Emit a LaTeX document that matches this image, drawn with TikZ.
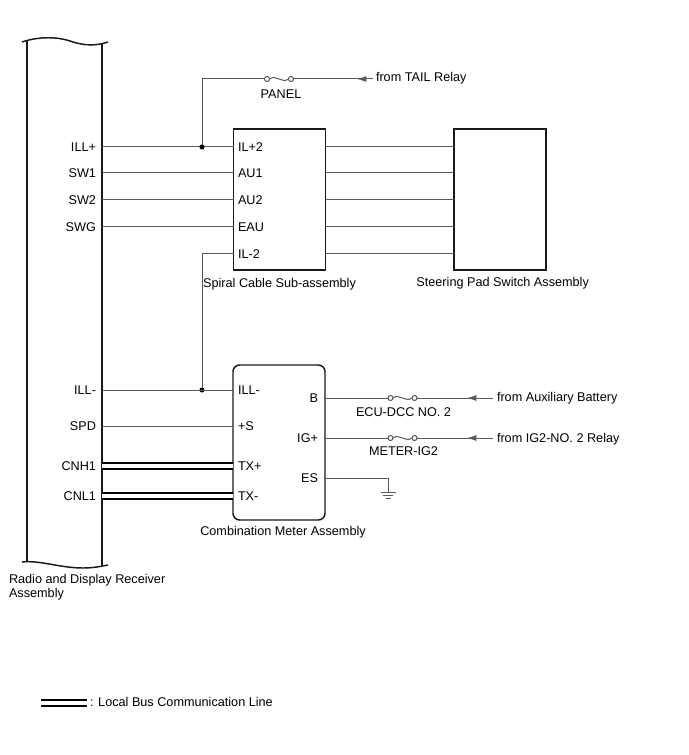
\documentclass[tikz,border=0pt]{standalone}
\usepackage{fontspec}
\setmainfont{Liberation Sans}
\usetikzlibrary{arrows.meta,calc,positioning}
\newcommand{\lblfont}{\fontsize{9.5}{10.5}\selectfont}

\begin{document}
\begin{tikzpicture}[x=0.75pt,y=-0.75pt,
  every node/.style={font=\lblfont,inner sep=0pt,outer sep=0pt,text height=6.8pt,text depth=0pt},
  wire/.style={draw=black!65,line width=0.75pt},
  feed/.style={wire,-{Latex[length=7pt,width=4.5pt]}},
  bus/.style={draw=black,line width=1.5pt,double=white,double distance=2.8pt},
  block/.style={draw=black!90,line width=1.1pt,rectangle,minimum width=69pt},
  portl/.style={anchor=east},
  portr/.style={anchor=west},
  fuse/.pic={
    \draw[wire,fill=white] (-12,0) circle (1.9pt) (12,0) circle (1.9pt);
    \draw[wire] (-9.5,0) .. controls (-3,-5) and (3,5) .. (9.5,0);
    \coordinate (-l) at (-14,0);
    \coordinate (-r) at (14,0);
  }]

  \useasboundingbox (0,0) rectangle (688,755);

  % radio and display receiver
  \draw[block] (27,41) -- (27,562) (102,43.5) -- (102,566);
  \draw[block] (22,42) .. controls (40,36) and (58,37) .. (70,41) .. controls (84,46) and (96,46) .. (108,42);
  \draw[block] (22,562) .. controls (40,560) and (60,568) .. (83,568) .. controls (95,568) and (102,566) .. (108,565);
  \coordinate (radioR) at (102,0);
  \foreach \n/\y/\t in {illp/147/ILL+,sw1/173/SW1,sw2/200/SW2,swg/227/SWG,illm/390/ILL-,spd/426/SPD,cnh/466/CNH1,cnl/496/CNL1}
    \node[portl] (r\n) at (96,\y) {\t};
  \node[portr] (radiocap) at (9,579) {Radio and Display Receiver};
  \node[portr] (radiocapb) at (9,593) {Assembly};

  % spiral cable and steering pad
  \node[block,minimum height=105.75pt] (spiral) at (279.5,199.5) {};
  \node[block,minimum height=105.75pt] (pad) at (500,199.5) {};
  \node[below=6.2pt of spiral] (spiralcap) {Spiral Cable Sub-assembly};
  \node[below=5.8pt of pad,xshift=2pt] (padcap) {Steering Pad Switch Assembly};
  \foreach \n/\y/\t in {a/147/IL+2,b/173/AU1,c/200/AU2,d/227/EAU,e/254/IL-2}
    \node[portr] (s\n) at (238,\y) {\t};

  \foreach \r/\s in {illp/a,sw1/b,sw2/c,swg/d}
    \draw[wire] (r\r -| radioR) -- (s\s -| spiral.west);
  \foreach \s in {a,b,c,d,e}
    \draw[wire] (s\s -| spiral.east) -- (s\s -| pad.west);

  % tail relay feed
  \coordinate (jtop) at (202,147);
  \coordinate (jbot) at (202,390);
  \coordinate (tail) at (373,79);
  \pic (panel) at (279,79) {fuse};
  \node (panellbl) at (281,94) {PANEL};
  \node[portr] (tailtxt) at (376,77) {from TAIL Relay};
  \draw[wire] (jtop) |- (panel-l);
  \draw[wire] (panel-r) -- (tail);
  \draw[feed] (tail) -- ++(-16,0);
  \draw[wire] (se -| spiral.west) -| (jbot);
  \fill[black] (jtop) circle (1.9pt) (jbot) circle (1.9pt);

  % combination meter
  \node[block,minimum height=116.25pt,rounded corners=5pt] (meter) at (279,442.5) {};
  \node[below=4.9pt of meter,xshift=3pt] (metercap) {Combination Meter Assembly};
  \foreach \n/\y/\t in {mi/390/ILL-,ms/426/+S,mtp/466/TX+,mtm/496/TX-}
    \node[portr] (\n) at (238,\y) {\t};
  \foreach \n/\y/\t in {mb/398/B,mig/438/IG+,mes/478/ES}
    \node[portl] (\n) at (318,\y) {\t};

  \draw[wire] (rillm -| radioR) -- (mi -| meter.west);
  \draw[wire] (rspd -| radioR) -- (ms -| meter.west);
  \draw[bus] (rcnh -| radioR) -- (mtp -| meter.west);
  \draw[bus] (rcnl -| radioR) -- (mtm -| meter.west);

  \coordinate (batt) at (493,398);
  \coordinate (ig2) at (493,438);
  \pic (ecu) at (402.5,398) {fuse};
  \pic (migf) at (402.5,438) {fuse};
  \node (eculbl) at (403.5,412) {ECU-DCC NO. 2};
  \node (miglbl) at (403.5,451) {METER-IG2};
  \node[portr] (batttxt) at (497,397) {from Auxiliary Battery};
  \node[portr] (ig2txt) at (497,438) {from IG2-NO. 2 Relay};
  \draw[wire] (mb -| meter.east) -- (ecu-l);
  \draw[wire] (ecu-r) -- (batt);
  \draw[feed] (batt) -- ++(-26,0);
  \draw[wire] (mig -| meter.east) -- (migf-l);
  \draw[wire] (migf-r) -- (ig2);
  \draw[feed] (ig2) -- ++(-26,0);

  % ground
  \coordinate (gnd) at (388,492);
  \draw[wire] (mes -| meter.east) -| (gnd);
  \draw[wire] ($(gnd)+(-7.5,0)$) -- ++(15,0) ($(gnd)+(-5,3.3)$) -- ++(10,0) ($(gnd)+(-2.5,6.6)$) -- ++(5,0);

  % legend
  \coordinate (lga) at (41,703);
  \coordinate (lgb) at (87,703);
  \draw[bus] (lga) -- (lgb);
  \node[portr] (lgtxt) at (90,702) {: Local Bus Communication Line};
\end{tikzpicture}
\end{document}
